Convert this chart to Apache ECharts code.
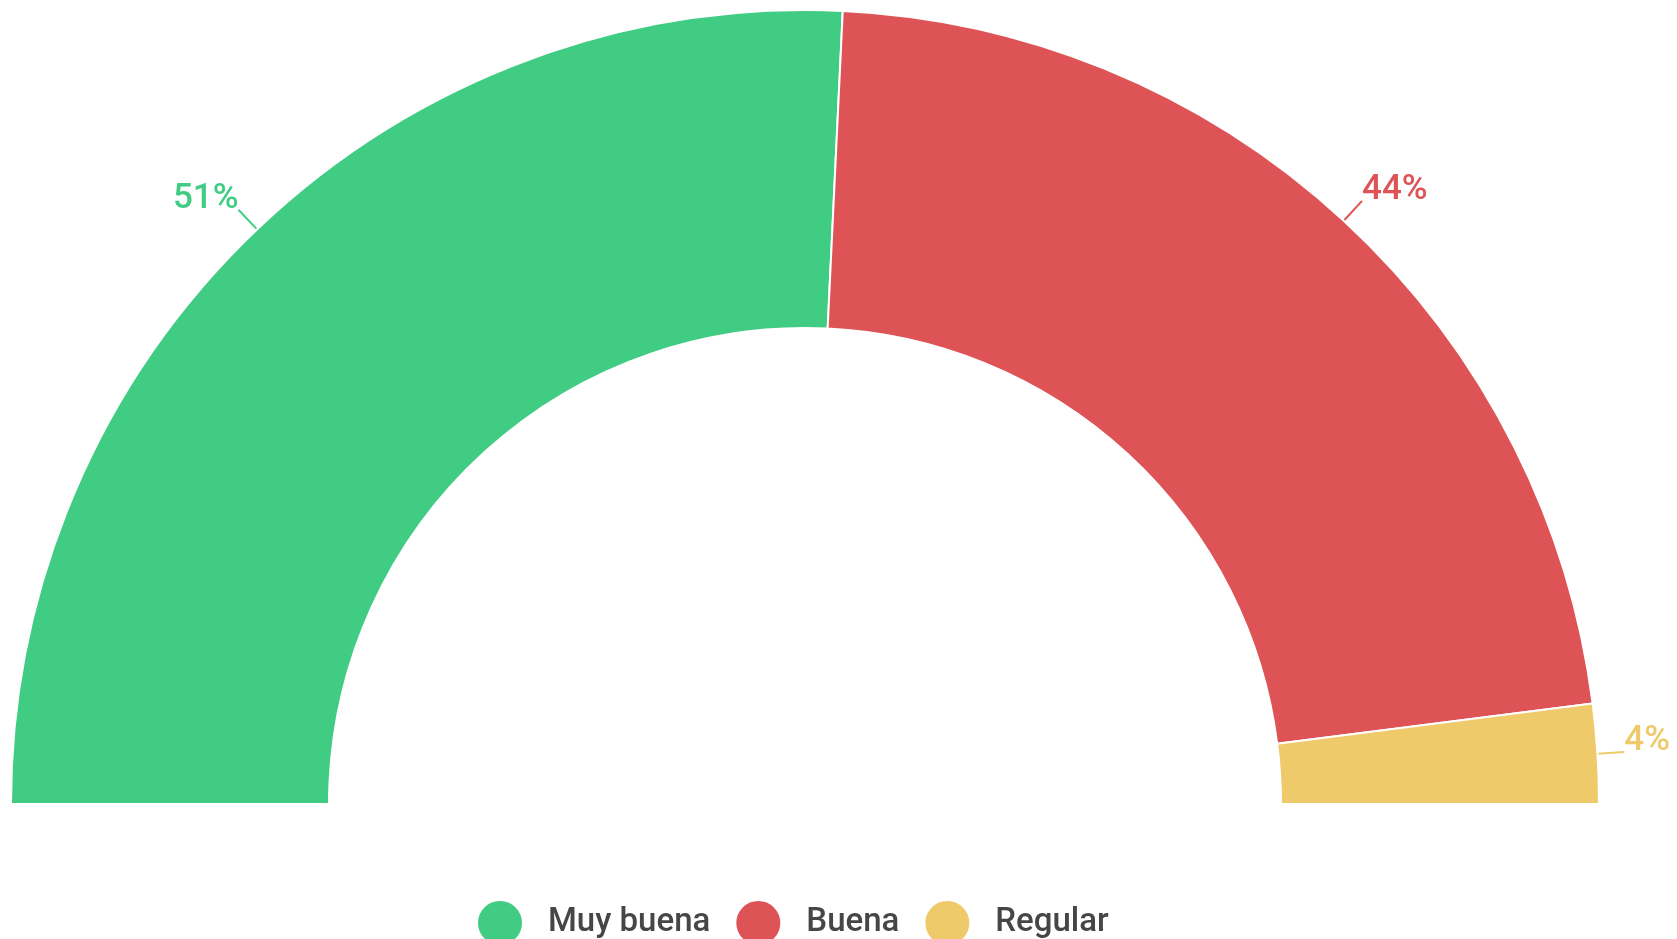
<!DOCTYPE html>
<html>
<head>
<meta charset="utf-8">
<script src="https://cdn.jsdelivr.net/npm/echarts@6/dist/echarts.min.js"></script>
<style>
    html, body { margin: 0; padding: 0; background: #fff; }
    #chart { width: 1677px; height: 939px; }
</style>
</head>
<body>
<div id="chart"></div>
<script>
// datos
var categorias = ['Muy buena', 'Buena', 'Regular'];
var valores = [51, 44, 4];
var colores = ['#41cc84', '#dd5356', '#efca6a'];

var myChart = echarts.init(document.getElementById('chart'));

var datos = categorias.map(function (nombre, i) {
    return {
        name: nombre,
        value: valores[i],
        itemStyle: { color: colores[i] },
        label: { color: colores[i] },
        labelLine: { lineStyle: { color: colores[i], width: 2 } }
    };
});

myChart.setOption({
    animation: false,
    backgroundColor: '#fff',
    legend: {
        data: categorias,
        left: 471,
        top: 894,
        icon: 'circle',
        itemWidth: 46,
        itemHeight: 46,
        itemGap: 24,
        textStyle: {
            fontFamily: 'Roboto',
            fontSize: 33,
            fontWeight: 500,
            color: '#464646',
            padding: [0, 0, 0, 20]
        }
    },
    series: [
        {
            type: 'pie',
            center: [805, 804],
            radius: [476, 794],
            startAngle: 180,
            endAngle: 360,
            clockwise: true,
            avoidLabelOverlap: false,
            itemStyle: {
                borderColor: '#fff',
                borderWidth: 2
            },
            label: {
                show: true,
                position: 'outside',
                formatter: '{v|{c}%}\n{e| }',
                fontFamily: 'Roboto',
                fontSize: 35,
                fontWeight: 500,
                distanceToLabelLine: 0,
                rich: {
                    v: { fontFamily: 'Roboto', fontSize: 35, fontWeight: 500, lineHeight: 38 },
                    e: { fontSize: 1, lineHeight: 22 }
                }
            },
            labelLine: {
                show: true,
                length: 27,
                length2: 0
            },
            data: datos
        }
    ]
});
</script>
</body>
</html>
